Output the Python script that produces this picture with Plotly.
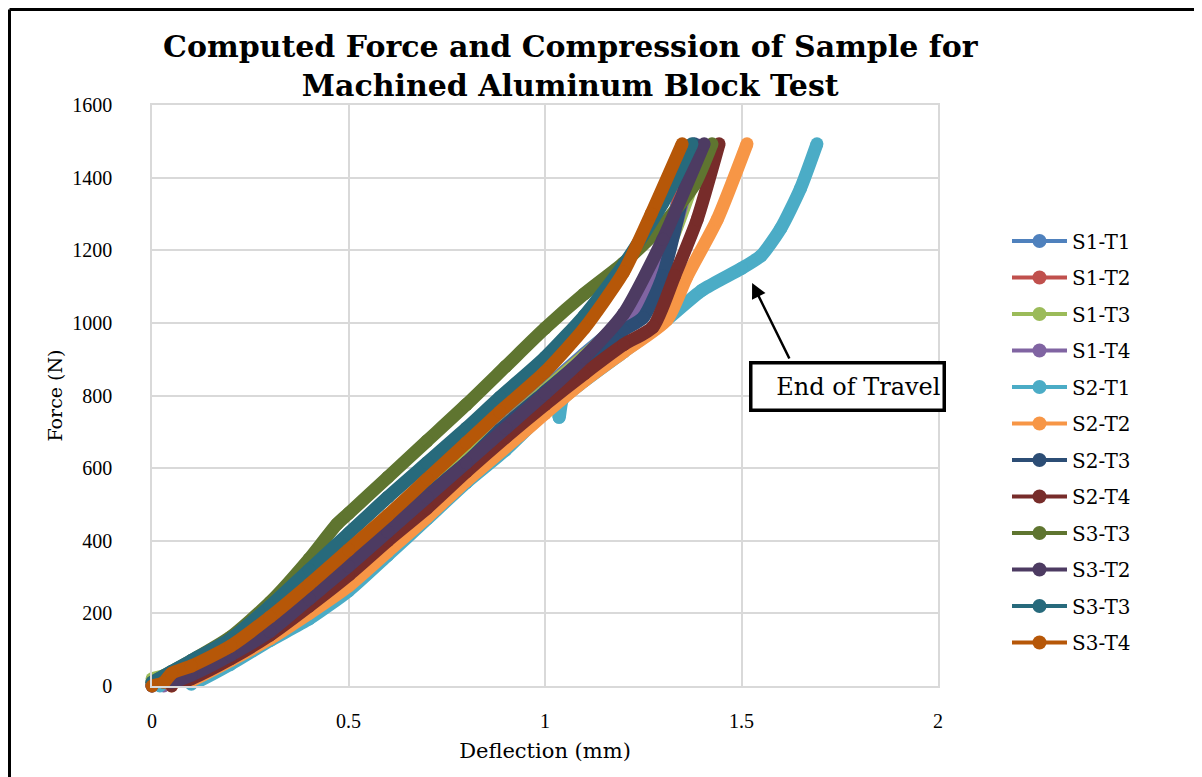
import plotly.graph_objects as go

# ---- data ----
names = ["S1-T1", "S1-T2", "S1-T3", "S1-T4", "S2-T1", "S2-T2",
         "S2-T3", "S2-T4", "S3-T3", "S3-T2", "S3-T3", "S3-T4"]
colors = ["#4F81BD", "#C0504D", "#9BBB59", "#8064A2", "#4BACC6", "#F79646",
          "#2C4D75", "#772C2A", "#5F7530", "#4D3B62", "#276A7C", "#B65708"]

s1t1_x = [0, 0.1, 0.2, 0.3, 0.4, 0.5, 0.6, 0.7, 0.8, 0.9, 1.0, 1.1, 1.2, 1.3, 1.37]
s1t1_y = [0, 40, 90, 160, 250, 345, 440, 535, 630, 725, 820, 915, 1010, 1190, 1490]
s1t2_x = [0, 0.1, 0.2, 0.3, 0.4, 0.5, 0.6, 0.7, 0.8, 0.9, 1.0, 1.1, 1.2, 1.3, 1.37]
s1t2_y = [0, 35, 85, 155, 245, 340, 435, 530, 625, 720, 815, 910, 1000, 1180, 1490]
s1t3_x = [0, 0.1, 0.2, 0.3, 0.4, 0.5, 0.6, 0.7, 0.8, 0.9, 1.0, 1.1, 1.2, 1.3, 1.41]
s1t3_y = [20, 50, 90, 160, 250, 340, 435, 530, 625, 720, 815, 910, 1010, 1170, 1490]
s1t4_x = [0.03, 0.1, 0.2, 0.3, 0.4, 0.5, 0.6, 0.7, 0.8, 0.9, 1.0, 1.1, 1.2, 1.3, 1.39]
s1t4_y = [0, 30, 75, 140, 225, 320, 415, 510, 605, 700, 795, 890, 985, 1160, 1490]
s2t1_x = [0.02, 0.1, 0.2, 0.3, 0.4, 0.5, 0.6, 0.7, 0.8, 0.9, 1.0, 1.03, 1.036, 1.045,
          1.1, 1.2, 1.3, 1.4, 1.5, 1.55, 1.6, 1.65, 1.692]
s2t1_y = [0, 5, 60, 125, 185, 262, 360, 460, 560, 650, 755, 780, 740, 790,
          840, 920, 1000, 1090, 1150, 1185, 1260, 1370, 1493]
s2t2_x = [0.05, 0.1, 0.2, 0.3, 0.4, 0.5, 0.6, 0.7, 0.8, 0.936, 1.0, 1.1, 1.2, 1.31,
          1.361, 1.438, 1.514]
s2t2_y = [0, 15, 70, 130, 200, 275, 370, 465, 565, 690, 750, 840, 920, 1008,
          1127, 1284, 1493]
s2t3_x = [0, 0.05, 0.1, 0.2, 0.3, 0.4, 0.5, 0.6, 0.7, 0.8, 0.885, 1.0, 1.1, 1.2,
          1.25, 1.3, 1.38]
s2t3_y = [10, 30, 45, 90, 155, 245, 335, 430, 525, 615, 705, 810, 900, 980,
          1015, 1130, 1493]
s2t4_x = [0.05, 0.1, 0.2, 0.3, 0.4, 0.5, 0.6, 0.7, 0.8, 0.9, 1.0, 1.1, 1.2, 1.275,
          1.33, 1.387, 1.443]
s2t4_y = [0, 20, 75, 140, 220, 305, 400, 490, 590, 685, 775, 860, 940, 989,
          1130, 1284, 1493]
s3t3a_x = [0, 0.05, 0.1, 0.2, 0.3, 0.4, 0.47, 0.5, 0.6, 0.7, 0.8, 0.9, 1.0, 1.1,
           1.2, 1.3, 1.38, 1.425]
s3t3a_y = [10, 40, 70, 135, 230, 350, 445, 475, 575, 675, 775, 880, 985, 1080,
           1165, 1270, 1380, 1493]
s3t2_x = [0, 0.05, 0.1, 0.2, 0.3, 0.4, 0.5, 0.6, 0.7, 0.8, 0.9, 1.0, 1.1, 1.2,
          1.3, 1.405]
s3t2_y = [0, 10, 30, 85, 150, 240, 330, 425, 520, 615, 710, 805, 905, 1025,
          1230, 1493]
s3t3b_x = [0, 0.05, 0.1, 0.2, 0.3, 0.4, 0.5, 0.6, 0.7, 0.8, 0.885, 1.0, 1.1, 1.2,
           1.3, 1.374]
s3t3b_y = [10, 40, 70, 130, 220, 320, 420, 520, 615, 710, 795, 905, 1020, 1160,
           1330, 1493]
s3t4_x = [0, 0.03, 0.05, 0.1, 0.2, 0.3, 0.4, 0.5, 0.6, 0.7, 0.8, 0.885, 1.0, 1.1,
          1.2, 1.27, 1.349]
s3t4_y = [0, 10, 35, 55, 110, 190, 280, 375, 470, 570, 670, 755, 865, 985,
          1140, 1300, 1493]

xs = [s1t1_x, s1t2_x, s1t3_x, s1t4_x, s2t1_x, s2t2_x, s2t3_x, s2t4_x,
      s3t3a_x, s3t2_x, s3t3b_x, s3t4_x]
ys = [s1t1_y, s1t2_y, s1t3_y, s1t4_y, s2t1_y, s2t2_y, s2t3_y, s2t4_y,
      s3t3a_y, s3t2_y, s3t3b_y, s3t4_y]

x_ticks = [0, 0.5, 1, 1.5, 2]
y_ticks = [0, 200, 400, 600, 800, 1000, 1200, 1400, 1600]

FONT = "DejaVu Serif"
TICKFONT = "Liberation Serif"

fig = go.Figure()
for i, (n, c, x, y) in enumerate(zip(names, colors, xs, ys)):
    fig.add_trace(go.Scatter(
        x=x, y=y, name=n, mode="lines+markers",
        line=dict(color=c, width=13, shape="spline", smoothing=0.6),
        marker=dict(color=c, size=13),
        legendgroup="g%d" % i, showlegend=False,
        cliponaxis=False,
    ))
# legend entries (thin line with a round marker, as in the reference)
for i, (n, c) in enumerate(zip(names, colors)):
    fig.add_trace(go.Scatter(
        x=[None], y=[None], name=n, mode="lines+markers",
        line=dict(color=c, width=4), marker=dict(color=c, size=14),
        legendgroup="g%d" % i, showlegend=True,
    ))

# page is offset by the browser's 8px body margin
OFF = 8
W, H = 1202 - OFF, 777 - OFF
PL, PR, PT, PB = 152, 938, 105, 686          # plot area in page pixels
L, T = PL - OFF, PT - OFF
R, B = W + OFF - PR, H + OFF - PB
pw, ph = PR - PL, PB - PT


def px_x(p):
    return (p - PL) / pw


def px_y(p):
    return (PB - p) / ph


fig.update_layout(
    width=W, height=H,
    margin=dict(l=L, r=R, t=T, b=B),
    paper_bgcolor="white", plot_bgcolor="white",
    font=dict(family=FONT, size=16, color="black"),
    xaxis=dict(
        range=[0, 2], tickvals=x_ticks, ticktext=[str(v) for v in x_ticks],
        showgrid=True, gridcolor="#D9D9D9", gridwidth=1.5,
        zeroline=False, showline=True, linecolor="#D9D9D9", linewidth=1.5,
        mirror=True, ticks="", ticklabelstandoff=16,
        title=dict(text="Deflection (mm)", font=dict(family=FONT, size=21), standoff=13),
        tickfont=dict(family=TICKFONT, size=20),
    ),
    yaxis=dict(
        range=[0, 1600], tickvals=y_ticks,
        showgrid=True, gridcolor="#D9D9D9", gridwidth=1.5,
        zeroline=False, showline=True, linecolor="#D9D9D9", linewidth=1.5,
        mirror=True, ticks="", ticklabelstandoff=34,
        title=dict(text="Force (N)", font=dict(family=FONT, size=19), standoff=5),
        tickfont=dict(family=TICKFONT, size=20),
    ),
    legend=dict(
        x=px_x(1007), y=px_y(221.5), xanchor="left", yanchor="top",
        font=dict(family=FONT, size=20), tracegroupgap=7.5,
        bgcolor="rgba(0,0,0,0)", itemwidth=55,
    ),
    showlegend=True,
)

# title
fig.add_annotation(
    xref="paper", yref="paper", x=px_x(571), y=px_y(66),
    xanchor="center", yanchor="middle", showarrow=False, align="center",
    text="<b>Computed Force and Compression of Sample for<br>Machined Aluminum Block Test</b>",
    font=dict(family=FONT, size=30, color="black"),
)

# text box
fig.add_annotation(
    xref="paper", yref="paper", x=px_x(847), y=px_y(386),
    xanchor="center", yanchor="middle",
    text="End of Travel", showarrow=False, align="right",
    font=dict(family=FONT, size=24, color="black"),
    bordercolor="black", borderwidth=3.5, borderpad=2, bgcolor="white",
    width=186, height=40,
)
# arrow
fig.add_annotation(
    x=1.527, y=1110, xref="x", yref="y", text="", showarrow=True,
    ax=38, ay=77, arrowhead=2, arrowsize=1.2, arrowwidth=2.5, arrowcolor="black",
    standoff=0,
)

# outer frame lines (top and left)
fig.add_shape(type="line", xref="paper", yref="paper",
              x0=px_x(9.5), y0=px_y(9.5), x1=px_x(1210), y1=px_y(9.5),
              line=dict(color="black", width=3))
fig.add_shape(type="line", xref="paper", yref="paper",
              x0=px_x(9.5), y0=px_y(9.5), x1=px_x(9.5), y1=px_y(790),
              line=dict(color="black", width=3))

fig.write_html("out.html")
